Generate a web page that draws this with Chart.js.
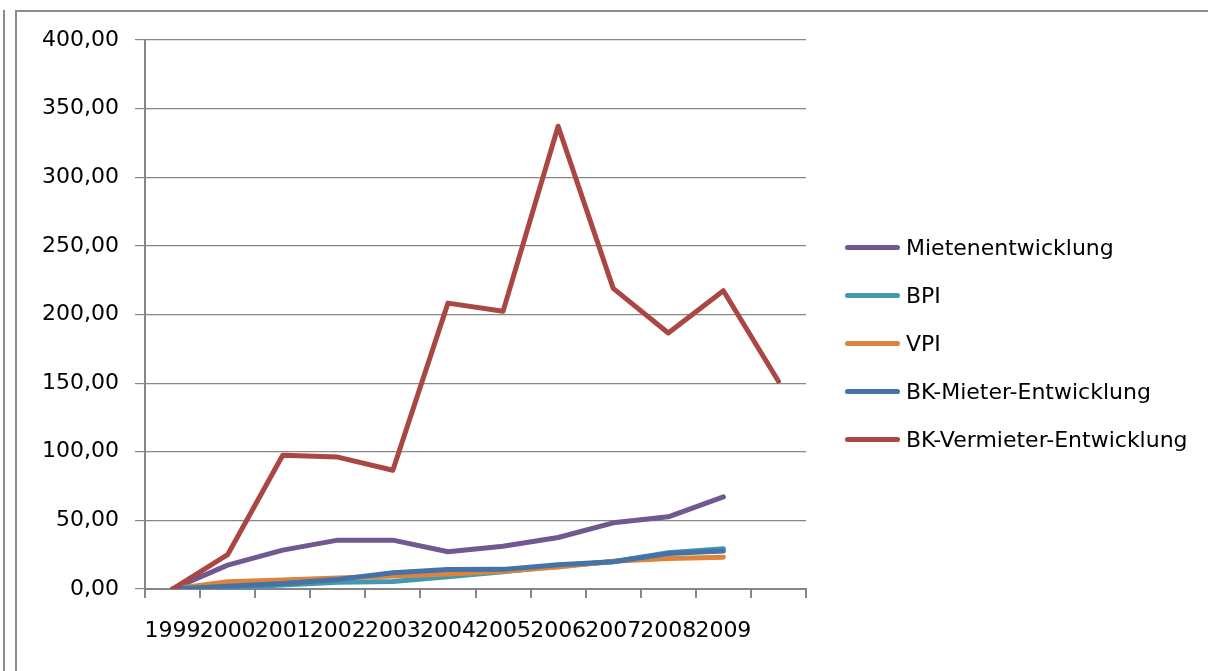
<!DOCTYPE html>
<html>
<head>
<meta charset="utf-8">
<script src="https://cdn.jsdelivr.net/npm/chart.js@4/dist/chart.umd.min.js"></script>
<style>
  html, body { margin:0; padding:0; background:#fff; }
  body { width:1208px; height:671px; position:relative; overflow:hidden; font-family:"DejaVu Sans", sans-serif; }
  .frameOuter { position:absolute; left:3px; top:10px; width:2px; height:661px; background:#8c8c8c; }
  .frameInner { position:absolute; left:15px; top:10px; right:0; bottom:-4px; border-left:2px solid #8c8c8c; border-top:2px solid #8c8c8c; }
  #wrap { position:absolute; left:0; top:0; width:1208px; height:671px; }
  #legend { position:absolute; left:845px; top:0; margin:0; padding:0; list-style:none; }
  #legend li { position:absolute; left:0; height:24px; display:flex; align-items:center; white-space:nowrap; font-size:22px; color:#000; }
  #legend li span.sw { display:inline-block; width:55px; height:5px; border-radius:2.5px; margin-right:6px; }
</style>
</head>
<body>
<div class="frameOuter"></div>
<div class="frameInner"></div>
<div id="wrap"><canvas id="chart"></canvas></div>
<ul id="legend"></ul>
<script>
// categories (last slot has no label, the red series runs one step further)
const years = ["1999","2000","2001","2002","2003","2004","2005","2006","2007","2008","2009",""];

const mieten      = [0, 17.4, 28.3, 35.6, 35.6, 27.1, 31.2, 37.5, 48.2, 52.6, 67.1];
const bpi         = [0, 1.0, 3.0, 5.0, 5.5, 9.0, 12.6, 16.8, 19.8, 26.4, 29.4];
const vpi         = [0, 5.3, 6.6, 8.0, 9.4, 11.0, 13.0, 16.0, 20.2, 22.3, 23.2];
const bkMieter    = [0, 2.0, 4.0, 7.0, 11.8, 14.2, 14.3, 17.6, 19.8, 25.9, 27.6];
const bkVermieter = [0, 25.0, 97.4, 96.1, 86.5, 208.3, 202.3, 337.2, 219.0, 186.5, 217.3, 151.4];

const yTicks = [0, 50, 100, 150, 200, 250, 300, 350, 400];

const seriesNames  = ["Mietenentwicklung", "BPI", "VPI", "BK-Mieter-Entwicklung", "BK-Vermieter-Entwicklung"];
const seriesData   = [mieten, bpi, vpi, bkMieter, bkVermieter];
const seriesColors = ["#71588F", "#4198AF", "#DB843D", "#4572A7", "#AA4643"];

const GRID = "#868686";
const FONT = { family: "DejaVu Sans", size: 22 };

const datasets = seriesNames.map((name, i) => ({
  label: name,
  data: seriesData[i],
  borderColor: seriesColors[i],
  backgroundColor: seriesColors[i],
  borderWidth: 5,
  pointRadius: 0,
  tension: 0,
  borderCapStyle: "round",
  borderJoinStyle: "round",
  order: seriesNames.length - i  // later series drawn on top, like Excel
}));

const chart = new Chart(document.getElementById("chart"), {
  type: "line",
  data: { labels: years, datasets },
  options: {
    responsive: true,
    maintainAspectRatio: false,
    animation: false,
    layout: { padding: { left: 0, right: 402, top: 40, bottom: 0 } },
    plugins: { legend: { display: false }, tooltip: { enabled: false } },
    scales: {
      x: {
        offset: true,
        grid: { offset: true, drawOnChartArea: false, drawTicks: true, tickLength: 9, color: GRID, lineWidth: 2 },
        border: { display: true, color: GRID, width: 2 },
        ticks: { color: "#000", font: FONT, padding: 20, maxRotation: 0, autoSkip: false },
        afterFit: s => { s.height = 82; }
      },
      y: {
        min: 0, max: 400,
        afterBuildTicks: s => { s.ticks = yTicks.map(v => ({ value: v })); },
        grid: { color: GRID, lineWidth: 1.2, drawTicks: true, tickLength: 10 },
        border: { display: true, color: GRID, width: 2 },
        ticks: {
          color: "#000", font: FONT, padding: 16,
          callback: v => v.toFixed(2).replace(".", ",")
        },
        afterFit: s => { s.width = 145; }
      }
    }
  }
});

// legend built from the datasets
const legendTops = [247.7, 295.7, 343.3, 391, 439.3];
document.getElementById("legend").innerHTML = chart.data.datasets.map((d, i) =>
  `<li style="top:${legendTops[i] - 12}px"><span class="sw" style="background:${d.borderColor}"></span>${d.label}</li>`
).join("");
</script>
</body>
</html>
